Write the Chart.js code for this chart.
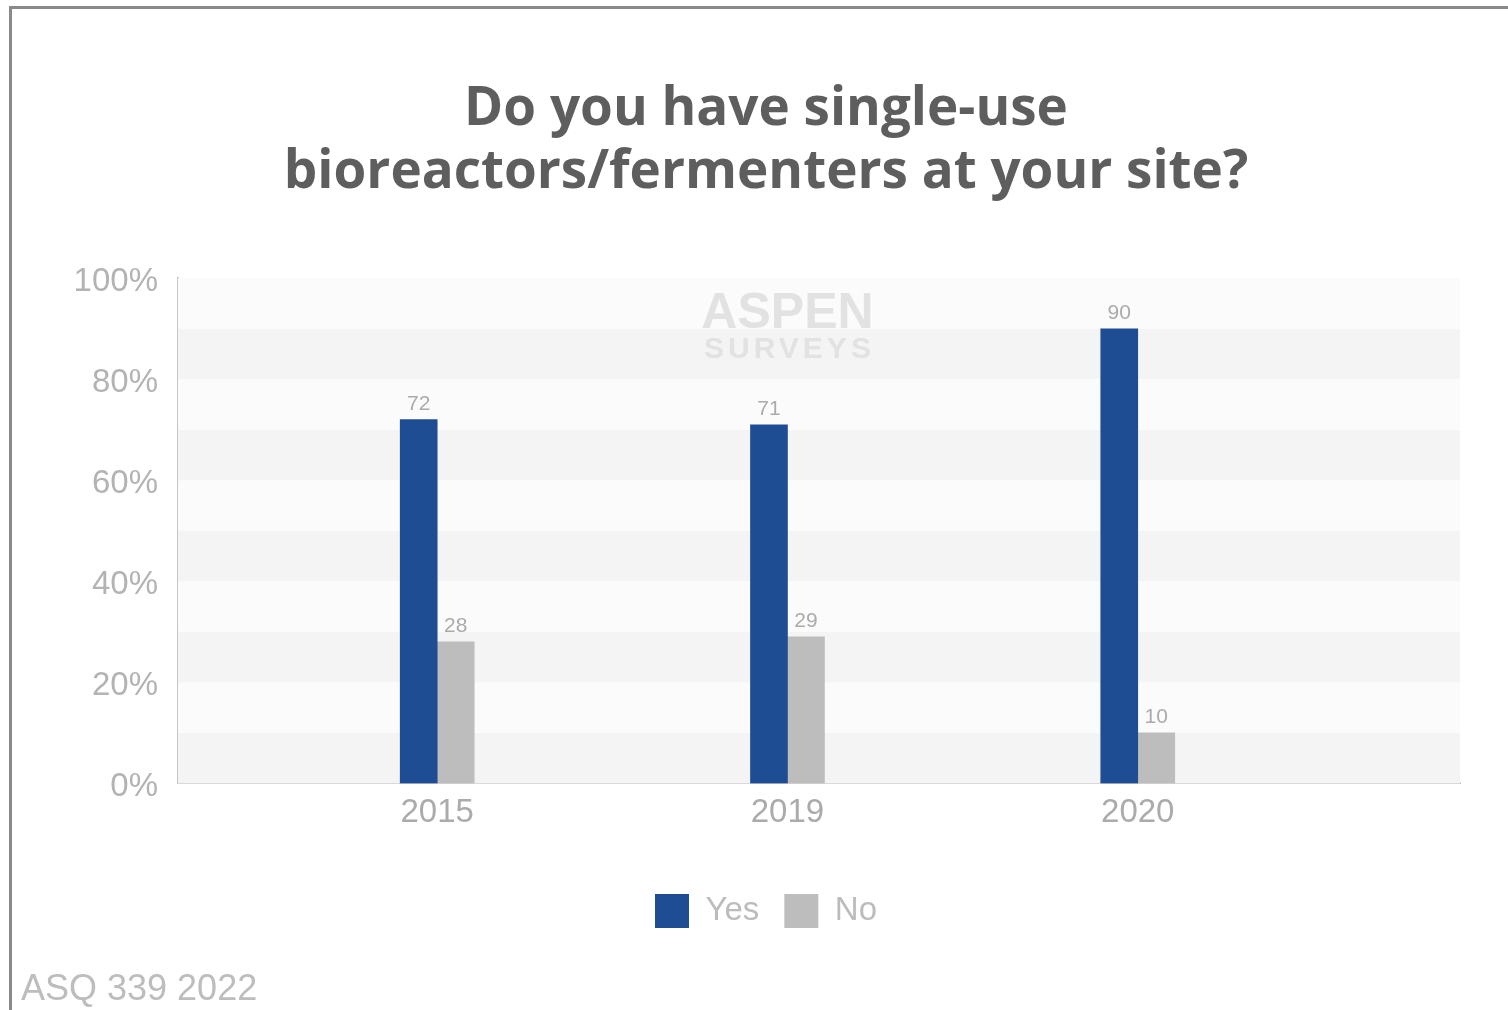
<!DOCTYPE html>
<html>
<head>
<meta charset="utf-8">
<script src="https://cdn.jsdelivr.net/npm/chart.js@4.4.1/dist/chart.umd.min.js"></script>
<style>
  html, body { margin: 0; padding: 0; background: #ffffff; }
  #wrap { position: relative; width: 1508px; height: 1010px; overflow: hidden; background: #fff; }
  #frame { position: absolute; left: 9px; top: 6px; width: 1600px; height: 1100px;
           border-top: 3px solid #8a8a8a; border-left: 3px solid #8a8a8a; box-sizing: border-box; }
  canvas { position: absolute; left: 0; top: 0; }
</style>
</head>
<body>
<div id="wrap">
  <div id="frame"></div>
  <canvas id="c" width="1508" height="1010"></canvas>
</div>
<script>
const categories = ['2015', '2019', '2020'];
const yesValues = [72, 71, 90];
const noValues = [28, 29, 10];
const yTickValues = [0, 20, 40, 60, 80, 100];
const titleLines = ['Do you have single-use', 'bioreactors/fermenters at your site?'];
const footerText = 'ASQ 339 2022';

const bandsPlugin = {
  id: 'bands',
  beforeDatasetsDraw(chart) {
    const { ctx, chartArea, scales } = chart;
    const y = scales.y;
    ctx.save();
    for (let v = 0; v < 100; v += 10) {
      const top = y.getPixelForValue(v + 10);
      const bot = y.getPixelForValue(v);
      ctx.fillStyle = ((v / 10) % 2 === 0) ? '#f4f4f4' : '#fbfbfb';
      ctx.fillRect(chartArea.left, top, chartArea.right - chartArea.left, bot - top);
    }
    // watermark
    const cx = scales.x.getPixelForValue(1);
    ctx.fillStyle = '#e2e2e2';
    ctx.textAlign = 'center';
    ctx.textBaseline = 'middle';
    ctx.font = 'bold 50px "Liberation Sans", Arial, sans-serif';
    ctx.fillText('ASPEN', cx, chartArea.top + 36);
    ctx.font = 'bold 30px "Liberation Sans", Arial, sans-serif';
    if ('letterSpacing' in ctx) ctx.letterSpacing = '4px';
    ctx.fillText('SURVEYS', cx + 2, chartArea.top + 72);
    ctx.restore();
  }
};

const labelsPlugin = {
  id: 'valueLabels',
  afterDatasetsDraw(chart) {
    const { ctx } = chart;
    ctx.save();
    ctx.fillStyle = '#ababab';
    ctx.font = '21px "Liberation Sans", Arial, sans-serif';
    ctx.textAlign = 'center';
    ctx.textBaseline = 'bottom';
    chart.data.datasets.forEach((ds, di) => {
      const meta = chart.getDatasetMeta(di);
      meta.data.forEach((el, i) => {
        ctx.fillText(String(ds.data[i].y), el.x, el.y - 5);
      });
    });
    ctx.restore();
  }
};

const footerPlugin = {
  id: 'footerText',
  afterDraw(chart) {
    const { ctx } = chart;
    ctx.save();
    ctx.fillStyle = '#bdbdbd';
    ctx.font = '36px "Liberation Sans", Arial, sans-serif';
    ctx.textAlign = 'left';
    ctx.textBaseline = 'middle';
    ctx.fillText(footerText, 21, 990);
    ctx.restore();
  }
};

new Chart(document.getElementById('c'), {
  type: 'bar',
  data: {
    datasets: [
      { label: 'Yes', data: yesValues.map((v, i) => ({ x: i, y: v })), backgroundColor: '#1e4d93', barThickness: 37 },
      { label: 'No', data: noValues.map((v, i) => ({ x: i, y: v })), backgroundColor: '#bdbdbd', barThickness: 37 }
    ]
  },
  plugins: [bandsPlugin, labelsPlugin, footerPlugin],
  options: {
    responsive: false,
    animation: false,
    devicePixelRatio: 1,
    layout: { padding: { left: 24, right: 0, top: 0, bottom: 72 } },
    plugins: {
      title: {
        display: true,
        text: titleLines,
        color: '#5e5e5e',
        font: { family: '"Open Sans", sans-serif', weight: 'bold', size: 53, lineHeight: 1.2 },
        padding: { top: 78, bottom: 73 }
      },
      legend: {
        display: true,
        position: 'bottom',
        labels: {
          boxWidth: 34, boxHeight: 34, padding: 25,
          color: '#bcbcbc',
          font: { family: '"Liberation Sans", Arial, sans-serif', size: 33 }
        }
      },
      tooltip: { enabled: false }
    },
    scales: {
      x: {
        type: 'linear',
        min: -0.74,
        max: 2.92,
        offset: false,
        afterBuildTicks(scale) { scale.ticks = categories.map((c, i) => ({ value: i })); },
        afterFit(scale) { scale.height += 26; },
        ticks: {
          callback: (v) => categories[v],
          color: '#ababab',
          font: { family: '"Liberation Sans", Arial, sans-serif', size: 33 },
          padding: 10,
          autoSkip: false,
          maxRotation: 0
        },
        grid: { display: false, drawTicks: false },
        border: { display: true, color: '#c6c6c6', width: 2 }
      },
      y: {
        min: 0,
        max: 100,
        afterBuildTicks(scale) { scale.ticks = yTickValues.map(v => ({ value: v })); },
        afterFit(scale) { scale.width = 154; },
        ticks: {
          callback: (v) => v + '%',
          color: '#b3b3b3',
          font: { family: '"Liberation Sans", Arial, sans-serif', size: 33 },
          padding: 20,
          labelOffset: 4
        },
        grid: { display: false, drawTicks: false },
        border: { display: true, color: '#c6c6c6', width: 2 }
      },
      yRight: {
        position: 'right',
        min: 0,
        max: 100,
        afterFit(scale) { scale.width = 48; },
        ticks: { display: false },
        grid: { display: false, drawTicks: false },
        border: { display: false }
      }
    }
  }
});
</script>
</body>
</html>
